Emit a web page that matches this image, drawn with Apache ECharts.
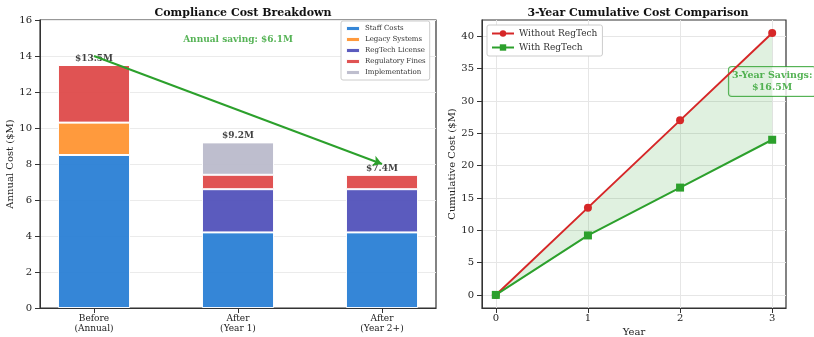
<!DOCTYPE html>
<html><head><meta charset="utf-8">
<script src="https://cdn.jsdelivr.net/npm/echarts@6/dist/echarts.min.js"></script>
<style>html,body{margin:0;padding:0;background:#fff}#c{width:814px;height:337px}</style>
</head><body><div id="c"></div>
<script>
const categories = ['Before\n(Annual)', 'After\n(Year 1)', 'After\n(Year 2+)'];
const staffCosts = [8.5, 4.2, 4.2];
const legacySystems = [1.8, 0, 0];
const regtechLicense = [0, 2.4, 2.4];
const regulatoryFines = [3.2, 0.8, 0.8];
const implementation = [0, 1.8, 0];
const totals = [13.5, 9.2, 7.4];
const years = [0, 1, 2, 3];
const withoutRegTech = [0, 13.5, 27.0, 40.5];
const withRegTech = [0, 9.2, 16.6, 24.0];
const leftYTicks = [0, 2, 4, 6, 8, 10, 12, 14, 16];
const rightYTicks = [0, 5, 10, 15, 20, 25, 30, 35, 40];

const F = 'DejaVu Serif';
const chart = echarts.init(document.getElementById('c'));
const pts = arr => arr.map((v, i) => [i, v]);
const barNames = ['Staff Costs', 'Legacy Systems', 'RegTech License', 'Regulatory Fines', 'Implementation'];
const barData = [staffCosts, legacySystems, regtechLicense, regulatoryFines, implementation];
const barColors = ['#2a7fd5', '#ff9533', '#5252ba', '#de4a4a', '#babacb'];
const green = '#2ca02c';

// grids: 0 = left frame (value axes), 1 = right frame, 2 = bars (category), 3 = fill (category)
const series = barData.map((d, k) => ({
  name: barNames[k], type: 'bar', stack: 'cost', xAxisIndex: 2, yAxisIndex: 2,
  data: d, barWidth: 72,
  itemStyle: { color: barColors[k], borderColor: '#fff', borderWidth: 1, opacity: 0.95 }
}));
series.push({
  type: 'scatter', xAxisIndex: 0, yAxisIndex: 0, symbolSize: 0, silent: true,
  data: pts(totals),
  label: { show: true, position: 'top', distance: 2, formatter: p => '$' + p.value[1].toFixed(1) + 'M',
    fontFamily: F, fontWeight: 'bold', fontSize: 9, color: '#111' },
  markLine: { silent: true, symbol: ['none', 'arrow'], symbolSize: [8, 9], label: { show: false },
    lineStyle: { color: green, width: 2, type: 'solid' },
    data: [[{ coord: [0, 14] }, { coord: [2, 8] }]] }
});
series.push({
  type: 'scatter', xAxisIndex: 0, yAxisIndex: 0, symbolSize: 0, silent: true,
  data: [[1, 14.9]],
  label: { show: true, position: 'inside', formatter: 'Annual saving: $6.1M',
    fontFamily: F, fontWeight: 'bold', fontSize: 9, color: green }
});
// fill between
series.push({ type: 'line', xAxisIndex: 3, yAxisIndex: 3, stack: 'fill', data: withRegTech,
  symbol: 'none', lineStyle: { opacity: 0 }, silent: true });
series.push({ type: 'line', xAxisIndex: 3, yAxisIndex: 3, stack: 'fill',
  data: withoutRegTech.map((v, i) => v - withRegTech[i]),
  symbol: 'none', lineStyle: { opacity: 0 }, areaStyle: { color: green, opacity: 0.15 }, silent: true });
series.push({ name: 'Without RegTech', type: 'line', xAxisIndex: 1, yAxisIndex: 1, data: pts(withoutRegTech),
  symbol: 'circle', symbolSize: 8, lineStyle: { color: '#d62728', width: 2 }, itemStyle: { color: '#d62728' } });
series.push({ name: 'With RegTech', type: 'line', xAxisIndex: 1, yAxisIndex: 1, data: pts(withRegTech),
  symbol: 'rect', symbolSize: 8, lineStyle: { color: green, width: 2 }, itemStyle: { color: green } });
series.push({ type: 'scatter', xAxisIndex: 1, yAxisIndex: 1, symbolSize: 0, silent: true, clip: false,
  data: [[3, 33]],
  label: { show: true, position: 'inside', formatter: '3-Year Savings:\n$16.5M',
    fontFamily: F, fontWeight: 'bold', fontSize: 9.5, color: green, lineHeight: 12, align: 'center',
    backgroundColor: '#fff', borderColor: green, borderWidth: 1, borderRadius: 3, padding: [3, 3, 2, 3] } });

const axisTxt = { fontFamily: F, fontSize: 10, color: '#222' };
const hiddenAxis = { show: false, axisLine: { show: false }, axisTick: { show: false }, axisLabel: { show: false }, splitLine: { show: false } };
chart.setOption({
  animation: false,
  title: [
    { text: 'Compliance Cost Breakdown', left: 238, top: 3, textAlign: 'center',
      textStyle: { fontFamily: F, fontWeight: 'bold', fontSize: 11, color: '#111' } },
    { text: '3-Year Cumulative Cost Comparison', left: 633, top: 3, textAlign: 'center',
      textStyle: { fontFamily: F, fontWeight: 'bold', fontSize: 11, color: '#111' } }
  ],
  legend: [
    { data: barNames, left: 341, top: 21, orient: 'vertical', itemWidth: 14, itemHeight: 5, itemGap: 4,
      padding: [4, 4, 4, 4], borderColor: '#ccc', borderWidth: 1, borderRadius: 2, backgroundColor: '#fff',
      textStyle: { fontFamily: F, fontSize: 7, color: '#333' } },
    { data: ['Without RegTech', 'With RegTech'], left: 487, top: 25, orient: 'vertical', itemWidth: 22, itemHeight: 8, itemGap: 5,
      padding: [4, 5, 4, 4], borderColor: '#ccc', borderWidth: 1, borderRadius: 2, backgroundColor: '#fff',
      textStyle: { fontFamily: F, fontSize: 9, color: '#333' } }
  ],
  grid: [
    { left: 40, right: 378, top: 20, bottom: 29, show: true, borderColor: '#333', borderWidth: 1.2, outerBoundsMode: 'none', containLabel: false },
    { left: 482, right: 28, top: 20, bottom: 29, show: true, borderColor: '#333', borderWidth: 1.2, outerBoundsMode: 'none', containLabel: false },
    { left: 22, right: 360, top: 20, bottom: 29, outerBoundsMode: 'none', containLabel: false },
    { left: 495.8, right: 41.8, top: 20, bottom: 29, outerBoundsMode: 'none', containLabel: false }
  ],
  xAxis: [
    { type: 'value', gridIndex: 0, min: -0.375, max: 2.375,
      axisLine: { show: true, onZero: false, lineStyle: { color: '#333' } }, splitLine: { show: false },
      axisTick: { show: true, customValues: [0, 1, 2], lineStyle: { color: '#333' } },
      axisLabel: { customValues: [0, 1, 2], formatter: v => categories[Math.round(v)], margin: 6,
        fontFamily: F, fontSize: 9, color: '#222', lineHeight: 10 } },
    { type: 'value', gridIndex: 1, min: -0.15, max: 3.15, name: 'Year', nameLocation: 'middle', nameGap: 17,
      nameTextStyle: { fontFamily: F, fontSize: 10, color: '#222' },
      axisLine: { show: true, onZero: false, lineStyle: { color: '#333' } },
      splitLine: { show: true, lineStyle: { color: '#e6e6e6' } },
      axisTick: { show: true, customValues: years, lineStyle: { color: '#333' } },
      axisLabel: Object.assign({ customValues: years, margin: 5 }, axisTxt) },
    Object.assign({ type: 'category', gridIndex: 2, data: categories, boundaryGap: true }, hiddenAxis),
    Object.assign({ type: 'category', gridIndex: 3, data: years, boundaryGap: false }, hiddenAxis)
  ],
  yAxis: [
    { type: 'value', gridIndex: 0, min: 0, max: 16, interval: 2, name: 'Annual Cost ($M)', nameLocation: 'middle', nameGap: 24,
      nameTextStyle: { fontFamily: F, fontSize: 10, color: '#222' },
      axisLine: { show: true, onZero: false, lineStyle: { color: '#333' } },
      axisTick: { show: true, customValues: leftYTicks, lineStyle: { color: '#333' } },
      splitLine: { show: true, lineStyle: { color: '#ebebeb' } },
      axisLabel: Object.assign({ customValues: leftYTicks }, axisTxt) },
    { type: 'value', gridIndex: 1, min: -2.025, max: 42.525, name: 'Cumulative Cost ($M)', nameLocation: 'middle', nameGap: 22,
      nameTextStyle: { fontFamily: F, fontSize: 10, color: '#222' },
      axisLine: { show: true, onZero: false, lineStyle: { color: '#333' } },
      axisTick: { show: true, customValues: rightYTicks, lineStyle: { color: '#333' } },
      splitLine: { show: true, lineStyle: { color: '#e6e6e6' } },
      axisLabel: Object.assign({ customValues: rightYTicks }, axisTxt) },
    Object.assign({ type: 'value', gridIndex: 2, min: 0, max: 16 }, hiddenAxis),
    Object.assign({ type: 'value', gridIndex: 3, min: -2.025, max: 42.525 }, hiddenAxis)
  ],
  series: series
});
</script></body></html>
